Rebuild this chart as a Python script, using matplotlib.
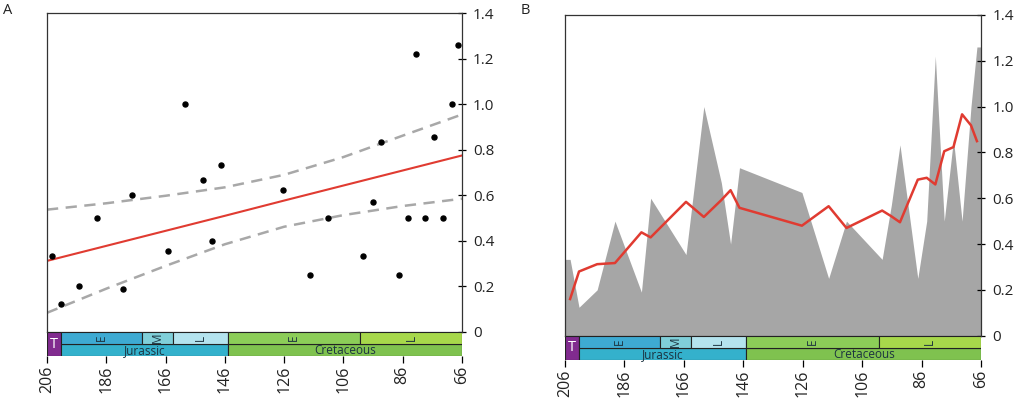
import numpy as np
import matplotlib
matplotlib.use("Agg")
import matplotlib.pyplot as plt

plt.rcParams['font.family'] = ['Open Sans', 'DejaVu Sans']

# ages (Ma) and values of each sample
ages = [204.3, 201.3, 195.2, 189.2, 180.3, 177.2, 165.3, 159.3, 153.4, 150.3,
        147.3, 126.3, 117.3, 111.3, 99.3, 96.2, 93.3, 87.3, 84.3, 81.4,
        78.4, 75.3, 72.4, 69.4, 67.4]
vals = [0.333, 0.124, 0.2, 0.5, 0.19, 0.6, 0.354, 1.0, 0.667, 0.4,
        0.733, 0.625, 0.25, 0.5, 0.333, 0.57, 0.833, 0.25, 0.5, 1.22,
        0.5, 0.857, 0.5, 1.0, 1.26]
# running value (red line, panel B)
run_vals = [0.16, 0.28, 0.312, 0.317, 0.451, 0.429, 0.584, 0.518, 0.592, 0.635,
            0.558, 0.48, 0.565, 0.47, 0.546, 0.521, 0.495, 0.681, 0.689, 0.66,
            0.805, 0.823, 0.966, 0.918, 0.849]

# regression and confidence band (panel A)
fit_ages = [206, 186, 166, 146, 126, 106, 86, 66]
fit_mid = [0.312, 0.378, 0.444, 0.51, 0.577, 0.643, 0.709, 0.775]
fit_hi = [0.537, 0.565, 0.598, 0.635, 0.69, 0.768, 0.862, 0.955]
fit_lo = [0.084, 0.19, 0.29, 0.385, 0.462, 0.513, 0.553, 0.585]

# geological time scale
periods = [('T', 206, 201.3, '#812b8f'), ('Jurassic', 201.3, 145, '#34b1cc'),
           ('Cretaceous', 145, 66, '#7fc24f')]
epochs = [('E', 201.3, 174.1, '#3eaad2'), ('M', 174.1, 163.5, '#80cfd9'),
          ('L', 163.5, 145, '#b4e3ee'), ('E', 145, 100.5, '#8ccd58'),
          ('L', 100.5, 66, '#a7d84b')]
xticks = [206, 186, 166, 146, 126, 106, 86, 66]
yticks = [0, 0.2, 0.4, 0.6, 0.8, 1.0, 1.2, 1.4]
ylabels = ['0', '0.2', '0.4', '0.6', '0.8', '1.0', '1.2', '1.4']

RED = '#e03b31'
GREY = '#a8a8a8'
TXT = '#222222'

fig = plt.figure(figsize=(10.24, 3.98), dpi=100)


def main_axes(rect):
    ax = fig.add_axes(rect)
    ax.set_xlim(206, 66)
    ax.set_ylim(0, 1.4)
    ax.yaxis.tick_right()
    ax.set_yticks(yticks)
    ax.set_yticklabels(ylabels)
    ax.set_xticks([])
    ax.tick_params(axis='y', direction='inout', length=6, width=0.9,
                   labelsize=11, labelcolor=TXT, pad=5)
    for s in ax.spines.values():
        s.set_linewidth(0.9)
        s.set_color('#333333')
    return ax


def timescale(rect):
    ts = fig.add_axes(rect)
    ts.set_xlim(206, 66)
    ts.set_ylim(0, 2)
    for name, old, young, col in periods:
        if name == 'T':
            ts.barh(1, old - young, left=young, height=2, color=col,
                    edgecolor='#222222', linewidth=0.8)
            ts.text((old + young) / 2, 1, name, color='white', ha='center',
                    va='center', fontsize=10.5)
        else:
            ts.barh(0.5, old - young, left=young, height=1, color=col,
                    edgecolor='#222222', linewidth=0.8)
            ts.text((old + young) / 2, 0.47, name, color='#1c3340',
                    ha='center', va='center', fontsize=8.5)
    for name, old, young, col in epochs:
        ts.barh(1.5, old - young, left=young, height=1, color=col,
                edgecolor='#222222', linewidth=0.8)
        ts.text((old + young) / 2, 1.5, name, color='#1c3340', rotation=90,
                ha='center', va='center', fontsize=8.5)
    ts.set_yticks([])
    ts.set_xticks(xticks)
    ts.set_xticklabels([str(t) for t in xticks], rotation=90)
    ts.tick_params(axis='x', direction='out', length=5, width=0.9,
                   labelsize=11.5, labelcolor=TXT, pad=2)
    for s in ts.spines.values():
        s.set_visible(False)
    return ts


# panel A
axA = main_axes([0.0459, 0.166, 0.4053, 0.801])
axA.plot(fit_ages, fit_hi, '--', color=GREY, lw=1.8, dashes=(4.5, 3))
axA.plot(fit_ages, fit_lo, '--', color=GREY, lw=1.8, dashes=(4.5, 3))
axA.plot(fit_ages, fit_mid, '-', color=RED, lw=1.5)
axA.plot(ages, vals, 'o', color='black', ms=3.6)
timescale([0.0459, 0.1055, 0.4053, 0.0603])

# panel B
axB = main_axes([0.5518, 0.1566, 0.4063, 0.806])
fill_x = [206] + ages + [66]
fill_y = [vals[0]] + vals + [vals[-1]]
axB.fill_between(fill_x, 0, fill_y, color='#a6a6a6', lw=0)
axB.plot(ages, run_vals, '-', color=RED, lw=1.8)
timescale([0.5518, 0.0955, 0.4063, 0.0611])

fig.text(0.003, 0.965, 'A', fontsize=10.5, color=TXT)
fig.text(0.508, 0.965, 'B', fontsize=10.5, color=TXT)

fig.savefig('out.png', dpi=100)
